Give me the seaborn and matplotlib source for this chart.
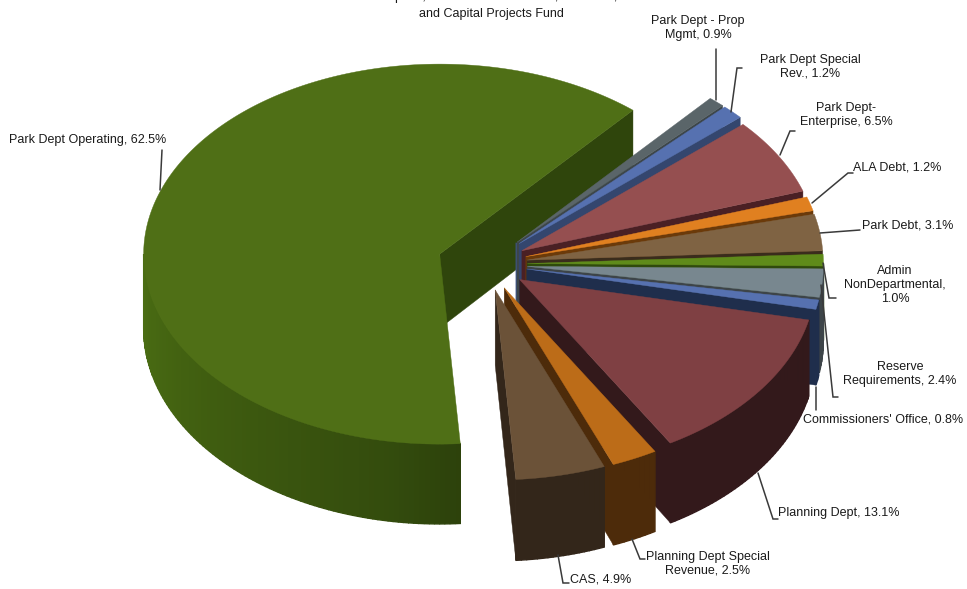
import numpy as np
import matplotlib
matplotlib.use("Agg")
import matplotlib.pyplot as plt
from matplotlib.colors import to_rgb
import seaborn as sns

# Budget shares, clockwise from the large operating slice
categories = ["Park Dept Operating", "Park Dept - Prop Mgmt", "Park Dept Special Rev.",
              "Park Dept-Enterprise", "ALA Debt", "Park Debt", "Admin NonDepartmental",
              "Reserve Requirements", "Commissioners' Office", "Planning Dept",
              "Planning Dept Special Revenue", "CAS"]
shares = [62.5, 0.9, 1.2, 6.5, 1.2, 3.1, 1.0, 2.4, 0.8, 13.1, 2.5, 4.9]
explode = [0.165, 0.155, 0.155, 0.14, 0.14, 0.14, 0.14, 0.14, 0.14, 0.14, 0.14, 0.14]

top_colors = ["#4f6f16", "#5a6569", "#5671b0", "#954f50", "#e08020", "#7f6343",
              "#5f8b1a", "#78878f", "#5671b0", "#7f4043", "#bc6c18", "#6b5238"]
wall_colors = ["#2f450c", "#3d464a", "#34466e", "#4a2024", "#6b3a0a", "#3a2c1c",
               "#2f4a0c", "#3d4448", "#1f2e4c", "#33191b", "#4d2b0a", "#33261a"]

# Label text, anchor and alignment, plus the leader line's path
labels = [
    ("Park Dept Operating, 62.5%", 88, 140, "center", [(160, 190), (162, 150)]),
    ("Park Dept - Prop\nMgmt, 0.9%", 698, 28, "center", [(716, 100), (716, 49)]),
    ("Park Dept Special\nRev., 1.2%", 810, 67, "center", [(731, 112), (737, 68), (742, 68)]),
    ("Park Dept-\nEnterprise, 6.5%", 846, 115, "center", [(780, 155), (790, 131), (795, 131)]),
    ("ALA Debt, 1.2%", 853, 168, "left", [(812, 203), (848, 173), (853, 173)]),
    ("Park Debt, 3.1%", 862, 226, "left", [(820, 233), (860, 230)]),
    ("Admin\nNonDepartmental,\n1.0%", 895, 285, "center", [(823, 263), (829, 298), (836, 298)]),
    ("Reserve\nRequirements, 2.4%", 900, 374, "center", [(821, 285), (833, 397), (838, 397)]),
    ("Commissioners' Office, 0.8%", 883, 419, "center", [(816, 387), (816, 410)]),
    ("Planning Dept, 13.1%", 778, 513, "left", [(758, 473), (773, 519), (778, 519)]),
    ("Planning Dept Special\nRevenue, 2.5%", 708, 564, "center", [(632, 539), (640, 559), (645, 559)]),
    ("CAS, 4.9%", 570, 580, "left", [(558, 555), (563, 583), (569, 583)]),
]
title_lines = ["Enterprise, Internal Service Funds, ALA Debt,", "and Capital Projects Fund"]

CX, CY = 486.0, 264.0
RX, RY = 296.0, 190.0
START_ANGLE = 176.0
FONT_SIZE = 9.0


def depth_at(y):
    """Wall height grows a little toward the viewer."""
    return 68.0 + 0.03 * (y - 50.0)


def rim(apex, theta):
    t = np.radians(theta)
    return np.column_stack([apex[0] + RX * np.sin(t), apex[1] - RY * np.cos(t)])


def wall_shade(i, theta):
    # Only the big slice shows a visible light falloff along its rim
    if i == 0:
        return np.interp(theta, [176, 190, 215, 270], [0.95, 1.1, 1.25, 1.6])
    return 1.0


def scaled(color, factor):
    return tuple(min(1.0, c * factor) for c in to_rgb(color))


sns.set_theme(style="white")
plt.rcParams["font.family"] = ["Liberation Sans", "DejaVu Sans"]

fig, ax = plt.subplots(figsize=(9.67, 5.89), dpi=100)
fig.subplots_adjust(0, 0, 1, 1)
ax.set_xlim(0, 967)
ax.set_ylim(589, 0)
ax.axis("off")

tops = sns.color_palette(top_colors)
walls = sns.color_palette(wall_colors)

# Angular span of every slice, wrapped so later slices stay within one turn
spans = []
angle = START_ANGLE
total = sum(shares)
for value in shares:
    sweep = 360.0 * value / total
    a0 = angle - 360.0 if angle >= 360.0 else angle
    spans.append((a0, a0 + sweep))
    angle += sweep


def draw_slice(i):
    a, b = spans[i]
    mid = np.radians((a + b) / 2)
    apex = (CX + explode[i] * RX * np.sin(mid), CY - explode[i] * RY * np.cos(mid))

    # Radial wall on the closing edge, when it faces the viewer
    if np.cos(np.radians(b + 90)) < 0:
        tip = rim(apex, b)[0]
        ax.fill([apex[0], tip[0], tip[0], apex[0]],
                [apex[1], tip[1], tip[1] + depth_at(tip[1]), apex[1] + depth_at(apex[1])],
                color=walls[i], lw=0.3, zorder=i * 3 + 1)

    # Curved outer wall, built from narrow shaded strips
    lo, hi = max(a, 90.0), min(b, 270.0)
    if hi > lo:
        steps = np.linspace(lo, hi, max(2, int(hi - lo) + 1))
        for s0, s1 in zip(steps[:-1], steps[1:]):
            p = rim(apex, np.array([s0, s1]))
            xs = [p[0, 0], p[1, 0], p[1, 0], p[0, 0]]
            ys = [p[0, 1], p[1, 1], p[1, 1] + depth_at(p[1, 1]), p[0, 1] + depth_at(p[0, 1])]
            ax.fill(xs, ys, color=scaled(walls[i], wall_shade(i, (s0 + s1) / 2)),
                    lw=1.0, zorder=i * 3 + 2)

    # Top face
    arc = rim(apex, np.linspace(a, b, max(3, int(b - a) * 2)))
    ax.fill(np.r_[apex[0], arc[:, 0]], np.r_[apex[1], arc[:, 1]],
            color=tops[i], lw=0.3, zorder=i * 3 + 3)
    return apex


for idx in range(len(shares)):
    apex_point = draw_slice(idx)
    if idx == 2:
        # Vertical sliver at the hub of the small blue slice
        ax.fill([apex_point[0] - 3.5, apex_point[0] + 6, apex_point[0] + 6, apex_point[0] - 3.5],
                [apex_point[1] - 1, apex_point[1] + 2, apex_point[1] + 59, apex_point[1] + 59],
                color="#3f5588", lw=0, zorder=2.5)
    if idx == 3:
        # Same sliver at the hub of the enterprise slice
        ax.fill([apex_point[0], apex_point[0] + 4.5, apex_point[0] + 4.5, apex_point[0]],
                [apex_point[1], apex_point[1], apex_point[1] + 30, apex_point[1] + 30],
                color=walls[3], lw=0, zorder=9.5)

# Leader lines and data labels
for text, x, y, ha, path in labels:
    px, py = zip(*path)
    ax.plot(px, py, color="#3a3a3a", lw=1.1, zorder=60, solid_joinstyle="miter")
    ax.text(x, y, text, ha=ha, va="center", fontsize=FONT_SIZE, color="#1a1a1a",
            linespacing=1.2, multialignment="center", zorder=61)

# Chart title, running off the top edge
ax.text(491, -3, title_lines[0], ha="center", va="center", fontsize=FONT_SIZE, color="#1a1a1a", zorder=61)
ax.text(491, 14, title_lines[1], ha="center", va="center", fontsize=FONT_SIZE, color="#1a1a1a", zorder=61)

fig.savefig("out.png", dpi=100, facecolor="white")
